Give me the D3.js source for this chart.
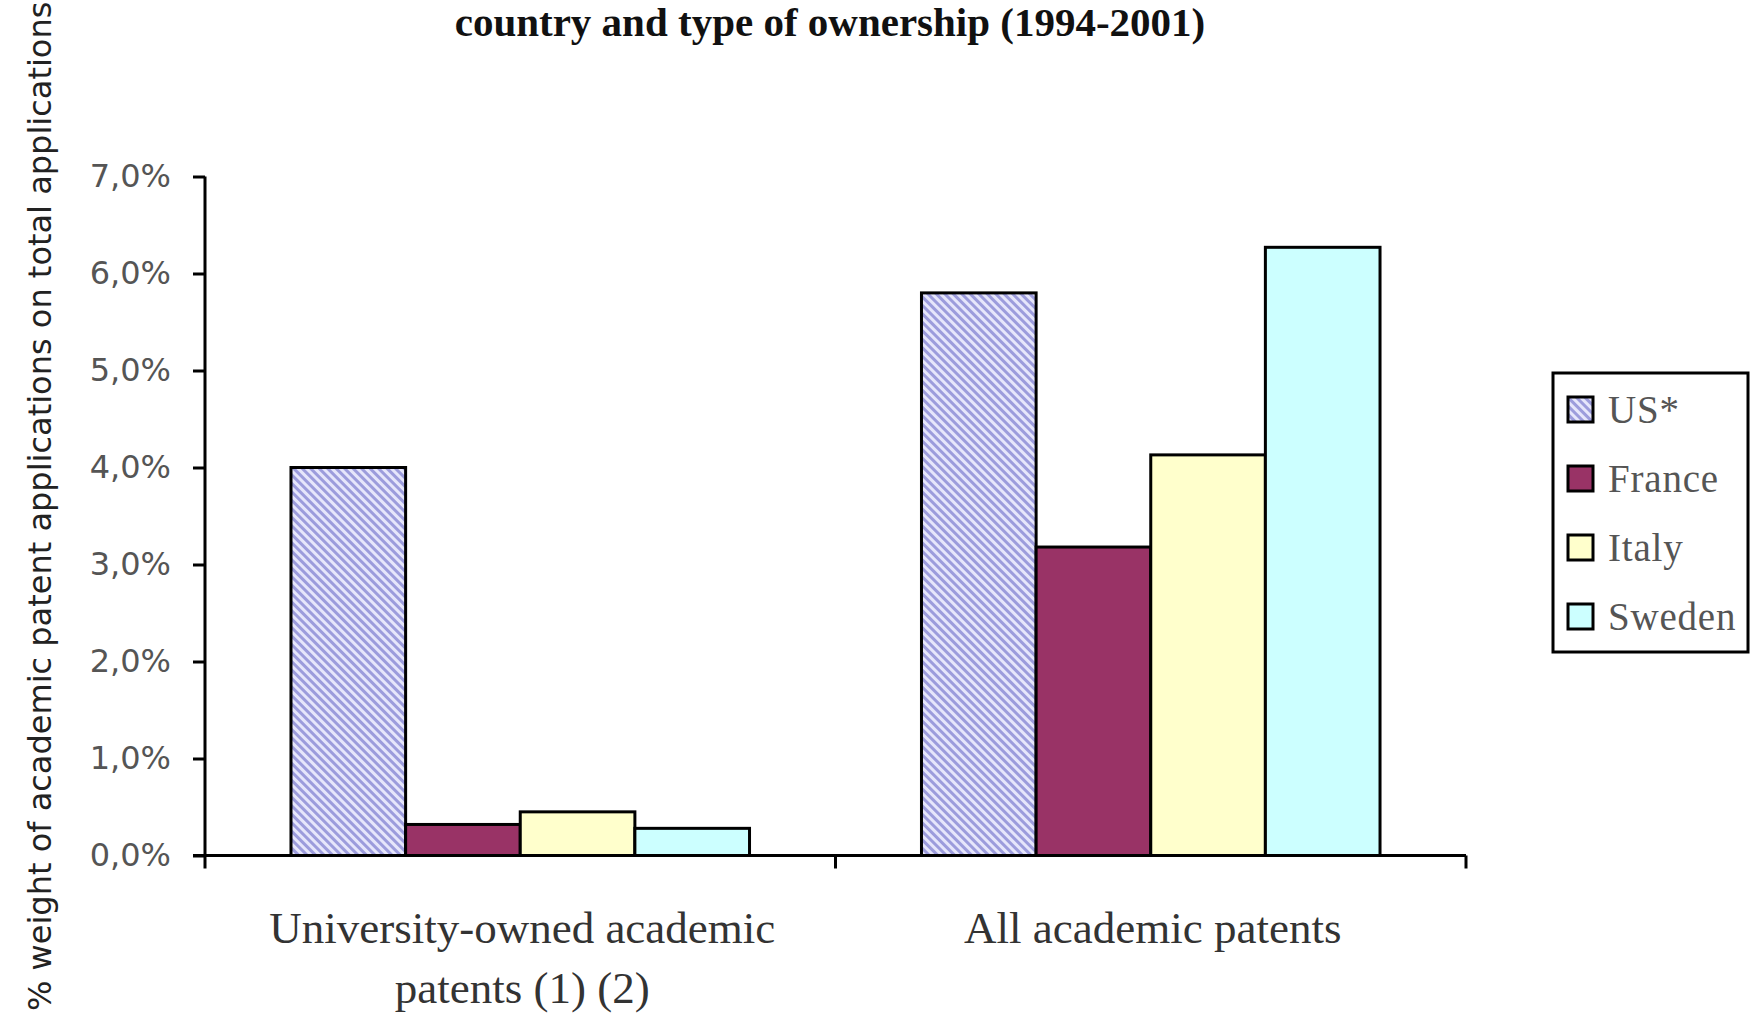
<!DOCTYPE html>
<html>
<head>
<meta charset="utf-8">
<script src="https://cdn.jsdelivr.net/npm/d3@7"></script>
<style>
  html, body { margin: 0; padding: 0; background: #fff; }
  svg { display: block; }
</style>
</head>
<body>
<svg id="chart" width="1751" height="1014"></svg>
<script>
// Share of academic patent applications, by ownership type and country
const categories = [
  ["University-owned academic", "patents (1) (2)"],
  ["All academic patents"]
];
const categoryKeys = ["univ", "all"];
const countries = ["US*", "France", "Italy", "Sweden"];
const valuesUS     = [4.0, 5.8];
const valuesFrance = [0.32, 3.18];
const valuesItaly  = [0.45, 4.13];
const valuesSweden = [0.28, 6.27];
const yTicks = [0, 1, 2, 3, 4, 5, 6, 7];
const titleText = "country and type of ownership (1994-2001)";
const yTitle = "% weight of academic patent applications on total applications";

const seriesValues = [valuesUS, valuesFrance, valuesItaly, valuesSweden];
const fills = ["url(#usHatch)", "#993366", "#FFFFCC", "#CCFFFF"];

const svg = d3.select("#chart");

// downward diagonal hatch used for the US series
const defs = svg.append("defs");
const pat = defs.append("pattern")
  .attr("id", "usHatch")
  .attr("patternUnits", "userSpaceOnUse")
  .attr("width", 6).attr("height", 6)
  .attr("patternTransform", "rotate(-45)");
pat.append("rect").attr("width", 6).attr("height", 6).attr("fill", "#e6e6fb");
pat.append("rect").attr("width", 3).attr("height", 6).attr("fill", "#9c9cdc");

const plot = { left: 205, right: 1466, top: 176.5, bottom: 855.5 };

const x0 = d3.scaleBand().domain(categoryKeys).range([plot.left, plot.right]).padding(0);
const x1 = d3.scaleBand().domain(countries).range([0, x0.bandwidth()])
  .paddingInner(0).paddingOuter(0.75);
const y = d3.scaleLinear().domain([0, 7]).range([plot.bottom, plot.top]);

// title
svg.append("text")
  .attr("x", 830).attr("y", 36)
  .attr("text-anchor", "middle")
  .attr("font-family", "Liberation Serif, Times New Roman, serif")
  .attr("font-weight", "bold")
  .attr("font-size", 41)
  .attr("fill", "#111")
  .text(titleText);

// y axis title
svg.append("text")
  .attr("transform", "translate(51,1011) rotate(-90)")
  .attr("text-anchor", "start")
  .attr("font-family", "DejaVu Sans, Verdana, sans-serif")
  .attr("font-size", 32)
  .attr("fill", "#222")
  .text(yTitle);

// bars
const groups = svg.append("g").selectAll("g")
  .data(categoryKeys)
  .join("g")
  .attr("transform", d => `translate(${x0(d)},0)`);

groups.selectAll("rect")
  .data((d, gi) => countries.map((c, si) => ({ c, si, v: seriesValues[si][gi] })))
  .join("rect")
  .attr("x", d => x1(d.c))
  .attr("y", d => y(d.v))
  .attr("width", x1.bandwidth())
  .attr("height", d => y(0) - y(d.v))
  .attr("fill", d => fills[d.si])
  .attr("stroke", "#000")
  .attr("stroke-width", 3);

// y axis
const yAxis = svg.append("g")
  .attr("transform", `translate(${plot.left},0)`)
  .call(d3.axisLeft(y)
    .tickValues(yTicks)
    .tickSize(12)
    .tickPadding(22)
    .tickFormat(d => d.toFixed(1).replace(".", ",") + "%"));
yAxis.select(".domain").attr("stroke", "#000").attr("stroke-width", 3)
  .attr("d", `M0,${plot.top}V${plot.bottom + 13}`);
yAxis.selectAll(".tick line").attr("stroke", "#000").attr("stroke-width", 3);
yAxis.selectAll(".tick text")
  .attr("font-family", "DejaVu Sans, Verdana, sans-serif")
  .attr("font-size", 32)
  .attr("fill", "#555");

// x axis: baseline with tick marks at category boundaries
const xAxis = svg.append("g")
  .attr("transform", `translate(0,${plot.bottom})`)
  .call(d3.axisBottom(x0).tickSize(0).tickFormat(""));
xAxis.select(".domain").attr("stroke", "#000").attr("stroke-width", 3)
  .attr("d", `M${plot.left - 12},0H${plot.right}`);
const boundaries = categoryKeys.map(k => x0(k)).concat([x0.range()[1]]).slice(1);
xAxis.selectAll(".bound")
  .data(boundaries)
  .join("line")
  .attr("x1", d => d).attr("x2", d => d)
  .attr("y1", 0).attr("y2", 13)
  .attr("stroke", "#000").attr("stroke-width", 3);

// category labels
const catLabels = svg.append("g").selectAll("text")
  .data(categoryKeys)
  .join("text")
  .attr("text-anchor", "middle")
  .attr("font-family", "Liberation Serif, Times New Roman, serif")
  .attr("font-size", 45)
  .attr("fill", "#333")
  .attr("transform", d => `translate(${x0(d) + x0.bandwidth() / 2 + 2},943)`);
catLabels.selectAll("tspan")
  .data((d, i) => categories[i])
  .join("tspan")
  .attr("x", 0)
  .attr("dy", (d, i) => i === 0 ? 0 : 60)
  .text(d => d);

// legend
const legend = svg.append("g").attr("transform", "translate(1553,373)");
legend.append("rect")
  .attr("width", 195).attr("height", 279)
  .attr("fill", "#fff").attr("stroke", "#000").attr("stroke-width", 3);
const items = legend.selectAll(".item")
  .data(countries)
  .join("g")
  .attr("class", "item")
  .attr("transform", (d, i) => `translate(0,${37 + i * 69})`);
items.append("rect")
  .attr("x", 15).attr("y", -13)
  .attr("width", 25).attr("height", 25)
  .attr("fill", (d, i) => fills[i])
  .attr("stroke", "#000").attr("stroke-width", 3);
items.append("text")
  .attr("x", 55).attr("y", 13)
  .attr("font-family", "Liberation Serif, Times New Roman, serif")
  .attr("font-size", 39)
  .attr("letter-spacing", 0.8)
  .attr("fill", "#555")
  .text(d => d);
</script>
</body>
</html>
